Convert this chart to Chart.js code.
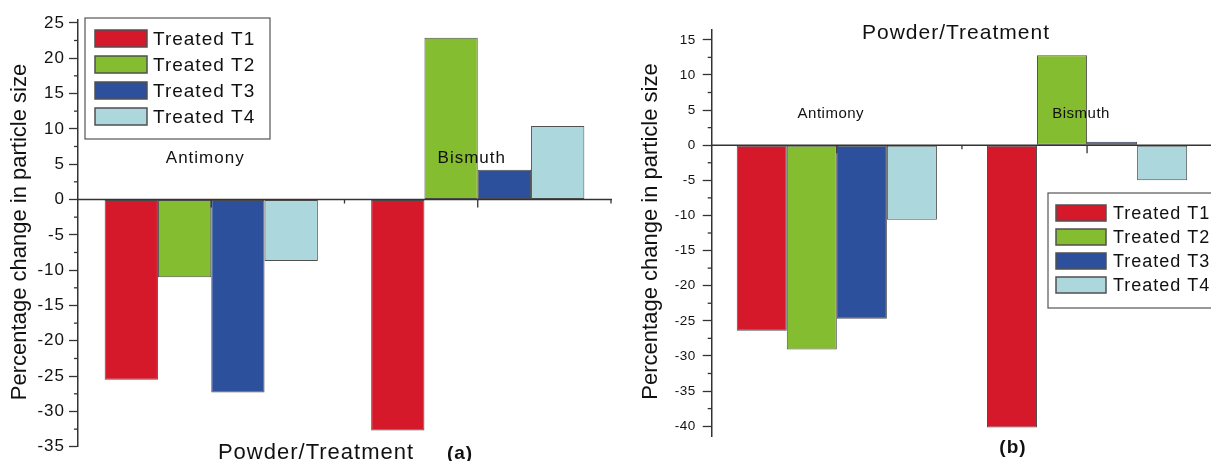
<!DOCTYPE html>
<html>
<head>
<meta charset="utf-8">
<script src="https://cdn.jsdelivr.net/npm/chart.js@4.4.1/dist/chart.umd.min.js"></script>
<style>
  html, body { margin: 0; padding: 0; background: #fff; overflow: hidden; }
  #wrap { position: relative; width: 1211px; height: 461px; overflow: hidden; }
  canvas { position: absolute; top: 0; }
  #chartA { left: 0; }
  #chartB { left: 620px; }
</style>
</head>
<body>
<div id="wrap">
  <canvas id="chartA" width="640" height="461"></canvas>
  <canvas id="chartB" width="600" height="461"></canvas>
</div>
<script>
const categories = ["Antimony", "Bismuth"];
const seriesNames = ["Treated T1", "Treated T2", "Treated T3", "Treated T4"];
const seriesColors = ["#d5182a", "#84bd2f", "#2d509c", "#acd7dc"];

// panel (a): values
const aT1 = [-25.5, -32.7];
const aT2 = [-11.0, 22.9];
const aT3 = [-27.3, 4.2];
const aT4 = [-8.7, 10.4];

// panel (b): values
const bT1 = [-26.4, -40.2];
const bT2 = [-29.1, 12.8];
const bT3 = [-24.7, 0.5];
const bT4 = [-10.6, -5.0];

const FONT = '"Liberation Sans", Arial, Helvetica, sans-serif';
Chart.defaults.font.family = FONT;
Chart.defaults.color = '#111';

function makeDatasets(series) {
    return series.map((data, i) => ({
        label: seriesNames[i],
        data: data,
        backgroundColor: seriesColors[i],
        borderColor: '#505050',
        borderWidth: 1,
        borderSkipped: false,
        categoryPercentage: 0.8,
        barPercentage: 1.0
    }));
}

// axis line at zero, x/y minor ticks, boxed legend and free texts
const decorPlugin = {
    id: 'decor',
    beforeDraw(chart, args, o) {
        // the original figure is a bit stretched sideways, widen tick text a little
        chart.ctx.letterSpacing = o.tickSpacing;
    },
    afterDraw(chart, args, o) {
        const ctx = chart.ctx;
        const xs = chart.scales.x, ys = chart.scales.y;
        const area = chart.chartArea;
        const y0 = ys.getPixelForValue(0);
        ctx.save();

        ctx.strokeStyle = '#333';
        ctx.lineWidth = 1.5;
        ctx.beginPath();
        ctx.moveTo(area.left, y0);
        ctx.lineTo(area.right + 1, y0);
        ctx.stroke();

        const half = (xs.getPixelForValue(1) - xs.getPixelForValue(0)) / 2;
        ctx.lineWidth = 1.3;
        categories.forEach((c, i) => {
            const cx = xs.getPixelForValue(i);
            ctx.beginPath();
            ctx.moveTo(cx, y0); ctx.lineTo(cx, y0 + 8);
            ctx.moveTo(cx + half, y0); ctx.lineTo(cx + half, y0 + 4);
            ctx.stroke();
        });

        // minor y ticks
        for (let v = Math.ceil(ys.min / 2.5) * 2.5; v <= ys.max; v += 2.5) {
            if (Math.abs(v % 5) < 0.01) continue;
            const py = ys.getPixelForValue(v);
            ctx.beginPath();
            ctx.moveTo(area.left, py); ctx.lineTo(area.left - 4, py);
            ctx.stroke();
        }

        // category names
        ctx.fillStyle = '#111';
        ctx.font = o.catFont + ' ' + FONT;
        ctx.letterSpacing = o.catSpacing;
        ctx.textAlign = 'center';
        ctx.textBaseline = 'alphabetic';
        categories.forEach((c, i) => {
            ctx.fillText(c, xs.getPixelForValue(i) - 6, o.catY);
        });

        // legend box
        const L = o.legend;
        ctx.fillStyle = '#fff';
        ctx.fillRect(L.x, L.y, L.w, L.h);
        ctx.strokeStyle = '#555';
        ctx.lineWidth = 1.2;
        ctx.strokeRect(L.x, L.y, L.w, L.h);
        ctx.font = L.font + ' ' + FONT;
        ctx.letterSpacing = '1px';
        ctx.textAlign = 'left';
        ctx.textBaseline = 'middle';
        chart.data.datasets.forEach((ds, i) => {
            const cy = L.row0 + i * L.gap;
            ctx.fillStyle = ds.backgroundColor;
            ctx.fillRect(L.sx, cy - L.sh / 2, L.sw, L.sh);
            ctx.strokeStyle = '#505050';
            ctx.lineWidth = 1.5;
            ctx.strokeRect(L.sx, cy - L.sh / 2, L.sw, L.sh);
            ctx.fillStyle = '#111';
            ctx.fillText(ds.label, L.tx, cy + 1);
        });

        // titles
        o.texts.forEach(t => {
            ctx.save();
            ctx.fillStyle = '#111';
            ctx.font = t.font + ' ' + FONT;
            ctx.letterSpacing = t.spacing || '0px';
            ctx.textAlign = 'center';
            ctx.textBaseline = t.baseline || 'alphabetic';
            ctx.translate(t.x, t.y);
            if (t.rotate) ctx.rotate(t.rotate);
            ctx.fillText(t.text, 0, 0);
            ctx.restore();
        });
        ctx.restore();
    }
};

function createChart(canvasId, series, cfg) {
    return new Chart(document.getElementById(canvasId), {
        type: 'bar',
        data: { labels: categories, datasets: makeDatasets(series) },
        plugins: [decorPlugin],
        options: {
            responsive: false,
            animation: false,
            layout: { padding: cfg.padding },
            scales: {
                x: { display: false, offset: true },
                y: {
                    min: cfg.min,
                    max: cfg.max,
                    afterFit: s => { s.width = cfg.axisX; },
                    ticks: { stepSize: 5, includeBounds: false, padding: cfg.tickPad,
                             font: { size: cfg.tickSize }, color: '#111' },
                    grid: { drawOnChartArea: false, drawTicks: true, tickLength: 9,
                            tickColor: '#333', tickWidth: 1.3 },
                    border: { display: true, color: '#333', width: 1.5 }
                }
            },
            plugins: {
                legend: { display: false },
                tooltip: { enabled: false },
                decor: {
                    tickSpacing: cfg.tickSpacing,
                    catFont: cfg.catFont,
                    catSpacing: cfg.catSpacing,
                    catY: cfg.catY,
                    legend: cfg.legend,
                    texts: cfg.texts
                }
            }
        }
    });
}

createChart('chartA', [aT1, aT2, aT3, aT4], {
    min: -35, max: 25.4,
    axisX: 78,
    padding: { left: 0, top: 20, right: 29, bottom: 11.5 },
    tickSize: 17, tickPad: 4, tickSpacing: '1px',
    catFont: '17px', catSpacing: '1px', catY: 163,
    legend: { x: 85, y: 18, w: 185, h: 121, sx: 95, sw: 52, sh: 17,
              row0: 38.5, gap: 26, tx: 153, font: '19px' },
    texts: [
        { text: 'Percentage change in particle size', x: 20, y: 232, font: '22px',
          rotate: -Math.PI / 2, baseline: 'middle' },
        { text: 'Powder/Treatment', x: 316, y: 459, font: '22px', spacing: '1px' },
        { text: '(a)', x: 460, y: 459, font: 'bold 19px', spacing: '1px' }
    ]
});

createChart('chartB', [bT1, bT2, bT3, bT4], {
    min: -41.4, max: 16.4,
    axisX: 91.7,
    padding: { left: 0, top: 30, right: 7.8, bottom: 25 },
    tickSize: 13.5, tickPad: 7, tickSpacing: '0.5px',
    catFont: '15px', catSpacing: '0.5px', catY: 117.5,
    legend: { x: 428, y: 193, w: 200, h: 115, sx: 436, sw: 50, sh: 16,
              row0: 213, gap: 24, tx: 493, font: '18px' },
    texts: [
        { text: 'Percentage change in particle size', x: 31, y: 231.5, font: '22px',
          rotate: -Math.PI / 2, baseline: 'middle' },
        { text: 'Powder/Treatment', x: 336, y: 38.5, font: '21px', spacing: '1px' },
        { text: '(b)', x: 393, y: 453, font: 'bold 19px', spacing: '1px' }
    ]
});
</script>
</body>
</html>
